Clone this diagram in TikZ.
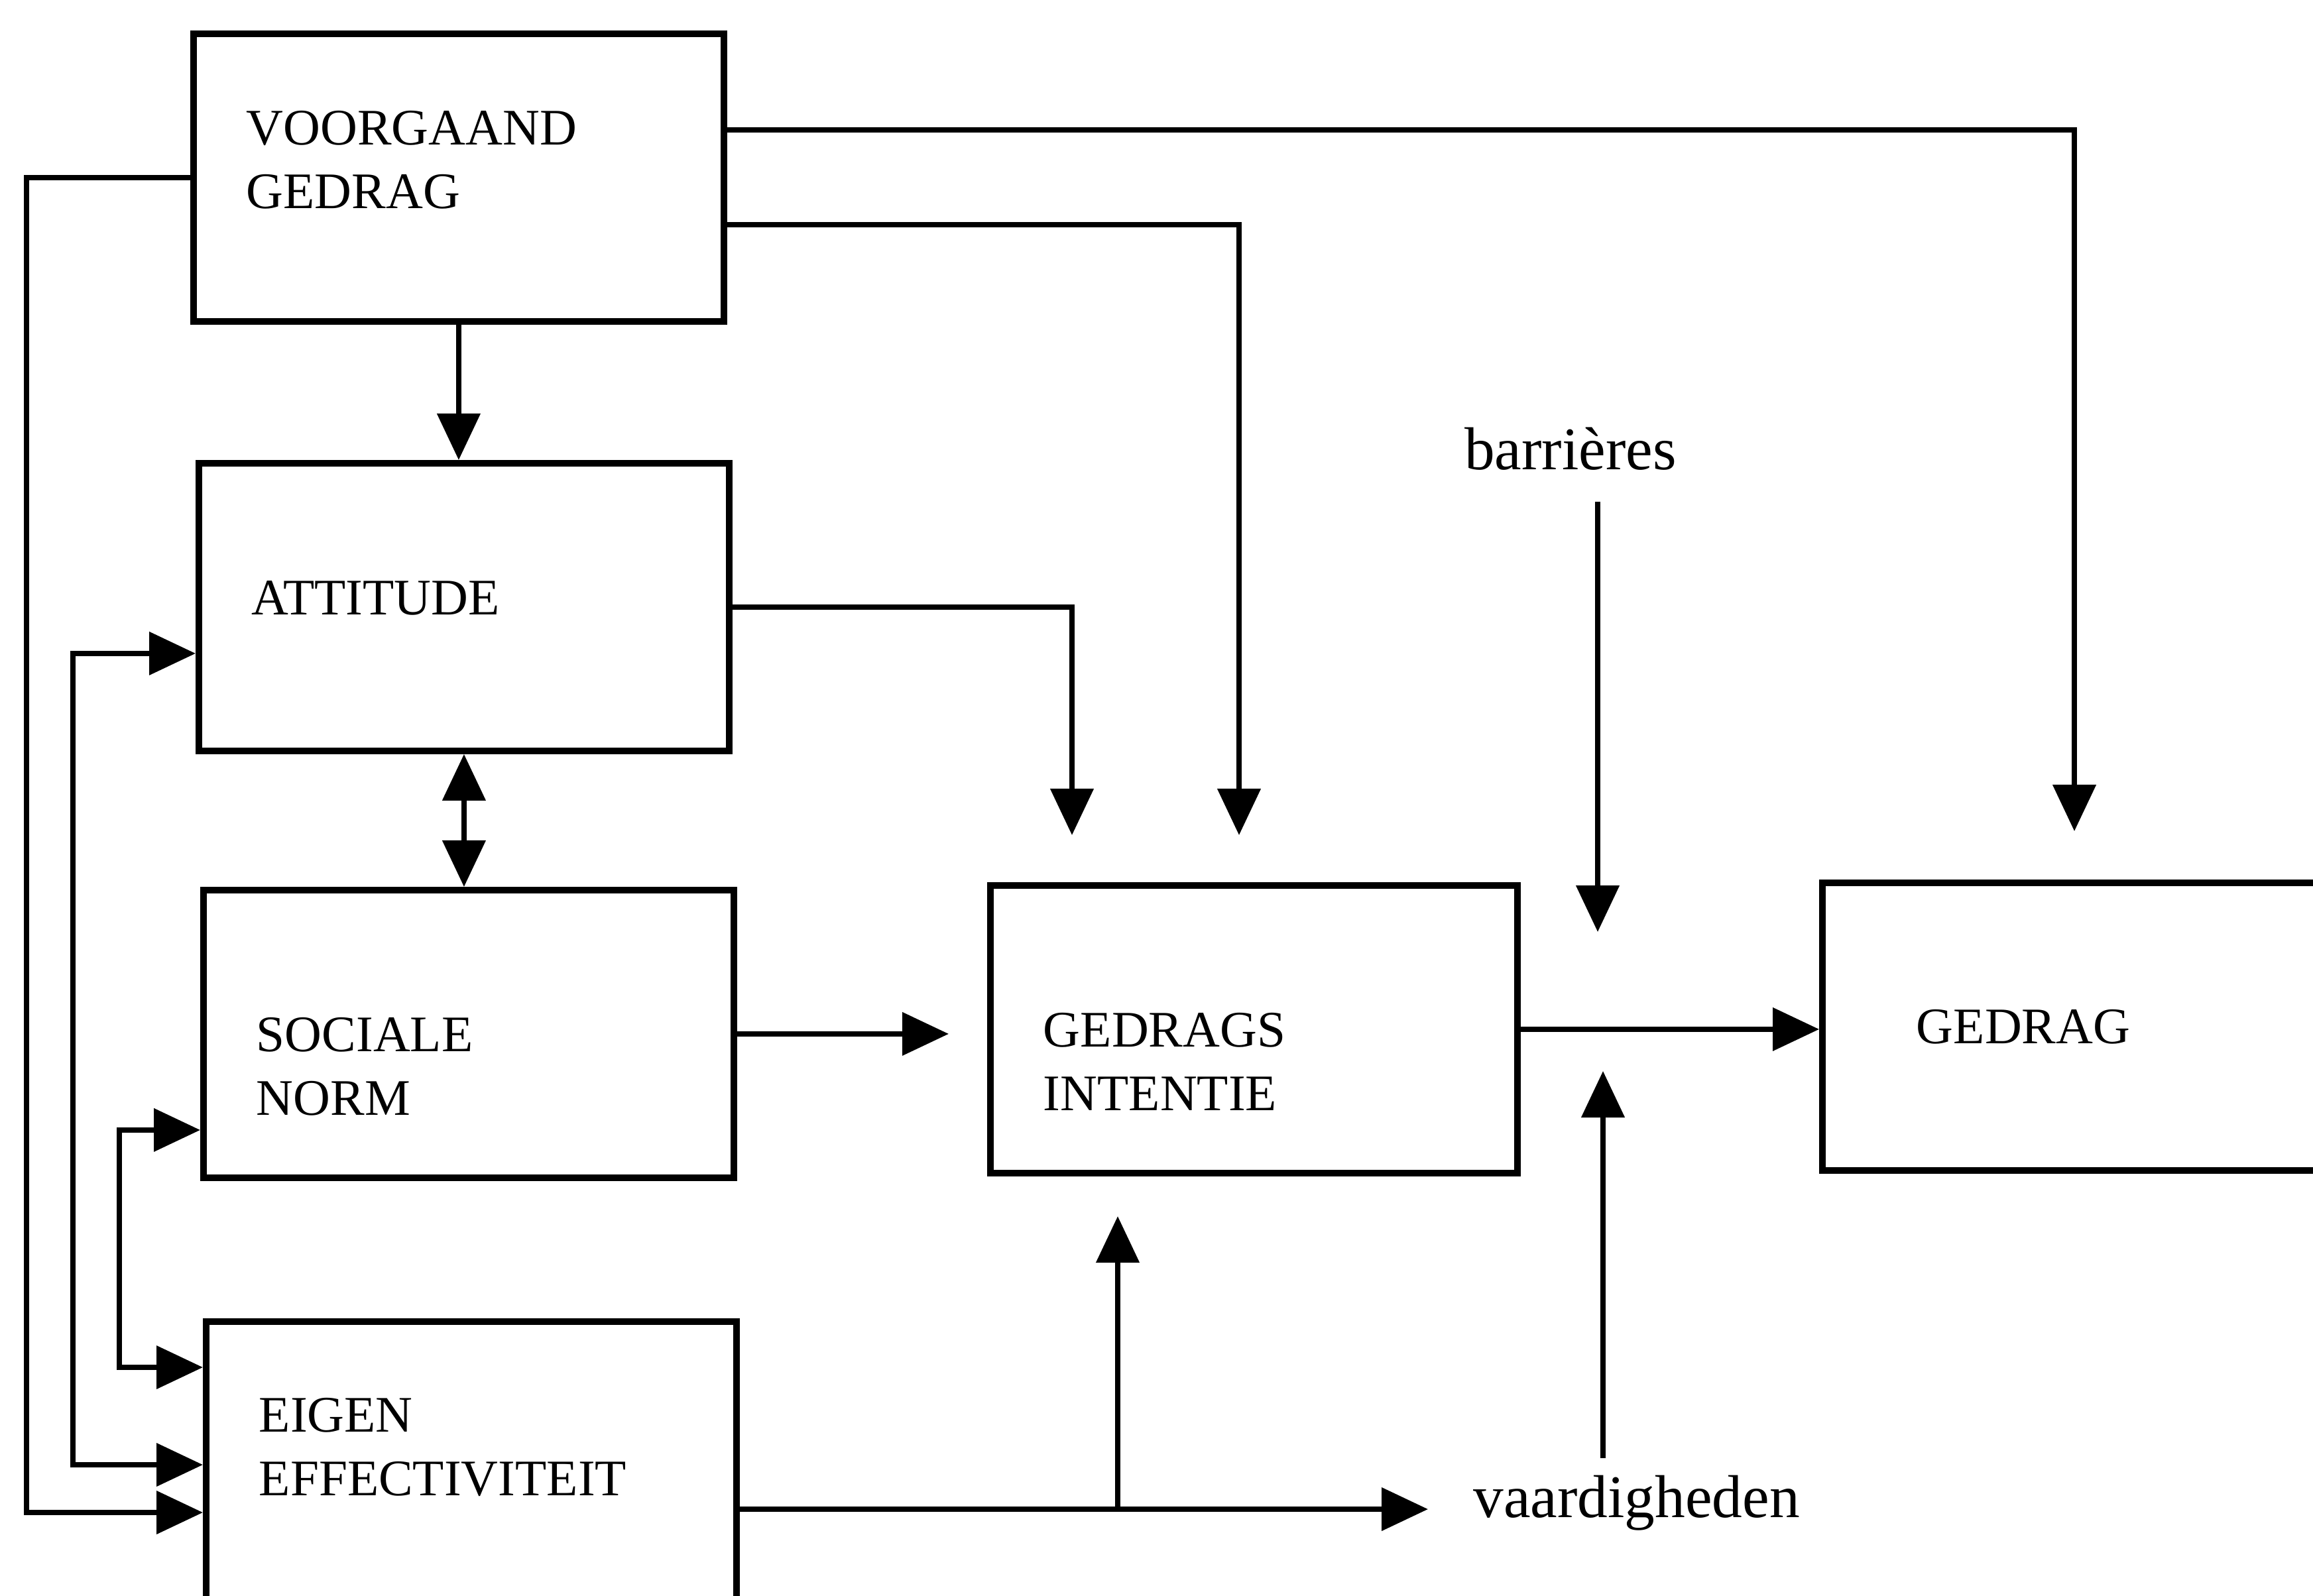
\documentclass[tikz,border=0pt]{standalone}
\usepackage{fontspec}
\setmainfont{Liberation Serif}
\usepackage{tikz}
\usetikzlibrary{arrows.meta,calc,positioning}

\begin{document}
\begin{tikzpicture}[>={Triangle[length=0.35cm,width=0.32cm]},
	box/.style={draw,line width=1.4pt,rectangle,anchor=north west,minimum height=2.17cm,
		text width=3.2cm,inner xsep=0.4cm,inner ysep=0pt,align=left,
		font=\fontsize{11pt}{13.75pt}\selectfont},
	con/.style={line width=1.1pt},
	lbl/.style={inner sep=0pt,font=\fontsize{13pt}{15pt}\selectfont}]
	\useasboundingbox (0,0) rectangle (17.445,12.035);
	
	% boxes
	\node[box,text height=7.3pt,text depth=21.4pt] (vo) at (1.435,11.805) {VOORGAAND\\GEDRAG};
	\node[box,text height=7.3pt,text depth=4pt] (at) at (1.475,8.565) {ATTITUDE};
	\node[box,text height=21.2pt,text depth=13.75pt] (sn) at (1.51,5.345) {SOCIALE\\NORM};
	\node[box,minimum height=2.4cm,text height=7.3pt,text depth=28.3pt] (ee) at (1.53,2.09) {EIGEN\\EFFECTIVITEIT};
	\node[box,text width=3.175cm,text height=21.2pt,text depth=13.75pt] (gi) at (7.445,5.38) {GEDRAGS\\INTENTIE};
	\node[box,text width=4cm,inner xsep=0.71cm] (gd) at (13.72,5.40) {GEDRAG};
	
	\node[lbl,anchor=base] (bar) at (11.845,8.49) {barrières};
	\node[lbl,anchor=base west] (vaar) at (11.105,0.59) {vaardigheden};
	
	% free ends
	\coordinate (gdin) at (15.645,5.765);
	\coordinate (gi1in) at (8.085,5.735);
	\coordinate (gi2in) at (9.345,5.735);
	\coordinate (gi0in) at (7.155,4.26);
	\coordinate (barout) at (12.05,8.25);
	\coordinate (barin) at (12.05,5.005);
	\coordinate (vaarout) at (12.09,1.035);
	\coordinate (vaarin) at (12.09,3.955);
	\coordinate (br) at (8.43,0.65);
	\coordinate (brin) at (8.43,2.86);
	\coordinate (eeout) at (10.77,0.65);
	\coordinate (l1) at (0.2,0.625);
	\coordinate (l2) at (0.55,0.985);
	\coordinate (l3) at (0.9,1.72);
	
	\draw[con,->] ([yshift=0.36cm]vo.east) -| (gdin);
	\draw[con,->] ([yshift=-0.355cm]vo.east) -| (gi2in);
	\draw[con,->] (at.east) -| (gi1in);
	\draw[con,->] (vo.south) -- (vo.south |- at.north);
	\draw[con,<->] (at.south) -- (at.south |- sn.north);
	\draw[con,->] (sn.east) -- (sn.east -| gi0in);
	\draw[con,->] (gi.east) -- (gi.east -| gd.west);
	\draw[con,->] (barout) -- (barin);
	\draw[con,->] (vaarout) -- (vaarin);
	\draw[con,->] (ee.east |- br) -- (eeout);
	\draw[con,->] (br) -- (brin);
	
	% feedback lines on the left
	\draw[con,->] (vo.west) -| (l1) -- (l1 -| ee.west);
	\draw[con,<->] ([yshift=-0.35cm]at.west) -| (l2) -- (l2 -| ee.west);
	\draw[con,<->] ([yshift=-0.725cm]sn.west) -| (l3) -- (l3 -| ee.west);
\end{tikzpicture}
\end{document}
